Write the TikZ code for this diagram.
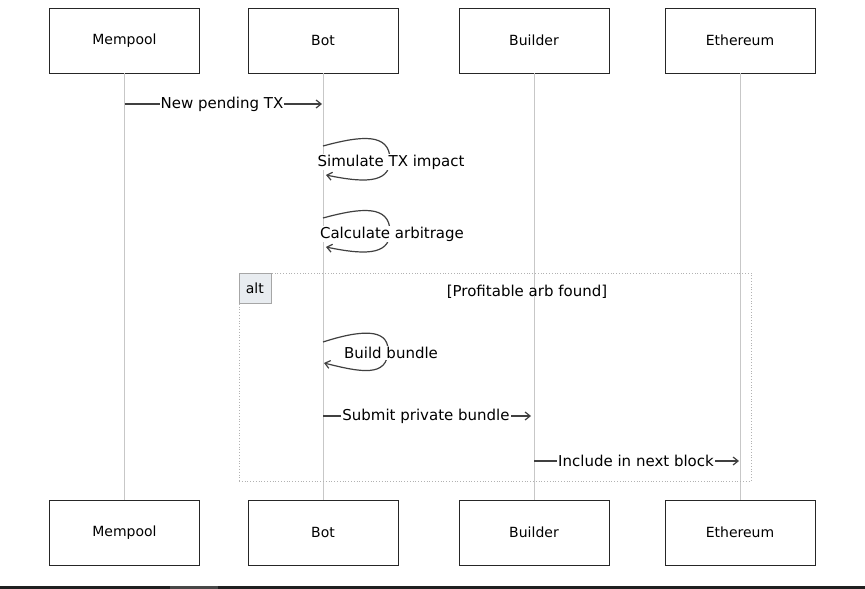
\documentclass[tikz,border=0pt]{standalone}
\usepackage{fontspec}
\setmainfont{DejaVu Sans}
\usetikzlibrary{arrows.meta}
\definecolor{altfill}{HTML}{E8ECF0}
\begin{document}
\begin{tikzpicture}[x=1pt,y=-1pt,
  actor/.style={draw=black!85,line width=0.9pt,fill=white,minimum width=150pt,minimum height=65pt,font=\fontsize{14}{16}\selectfont},
  lifeline/.style={draw=black!22,line width=1pt},
  msg/.style={draw=black!75,line width=1.2pt,-{Straight Barb[length=5pt,width=8pt]}},
  msglabel/.style={fill=white,inner sep=1pt,font=\fontsize{15}{17}\selectfont}]
\useasboundingbox (0,0) rectangle (865,589);
\fill[white] (0,0) rectangle (865,589);
\fill[black!88] (0,586) rectangle (865,589);
\fill[black!72] (170,586) rectangle (218,589);
\node[actor] (mempoolT) at (124.5,40.5) {Mempool};
\node[actor] (botT) at (323,40.5) {Bot};
\node[actor] (builderT) at (534,40.5) {Builder};
\node[actor] (ethT) at (740,40.5) {Ethereum};
\node[actor] (mempoolB) at (124.5,532.5) {Mempool};
\node[actor] (botB) at (323,532.5) {Bot};
\node[actor] (builderB) at (534,532.5) {Builder};
\node[actor] (ethB) at (740,532.5) {Ethereum};
\draw[lifeline] (mempoolT) -- (mempoolB);
\draw[lifeline] (botT) -- (botB);
\draw[lifeline] (builderT) -- (builderB);
\draw[lifeline] (ethT) -- (ethB);
\node[draw=black!30,dotted,line width=0.8pt,minimum width=512pt,minimum height=208pt,inner sep=0pt] (altframe) at (495,377) {};
\node[draw=black!35,fill=altfill,anchor=north west,minimum width=32pt,minimum height=30pt,inner sep=0pt,font=\fontsize{14}{16}\selectfont] (altlabel) at (altframe.north west) {alt};
\node[inner sep=1pt,font=\fontsize{15}{17}\selectfont] (guard) at (527,292) {[Profitable arb found]};
\coordinate (newS) at (124.5,104);
\coordinate (newE) at (322,104);
\draw[msg] (newS) -- (newE);
\node[msglabel] (newL) at (222,104) {New pending TX};
\coordinate (simS) at (323,146);
\coordinate (simE) at (326,175);
\draw[msg] (simS) .. controls (360,136) and (390,132) .. (390,160) .. controls (390,185) and (360,182) .. (simE);
\node[msglabel] (simL) at (391,162) {Simulate TX impact};
\coordinate (calcS) at (323,218);
\coordinate (calcE) at (326,247);
\draw[msg] (calcS) .. controls (360,208) and (390,204) .. (390,232) .. controls (390,257) and (360,254) .. (calcE);
\node[msglabel] (calcL) at (392,234) {Calculate arbitrage};
\coordinate (buildS) at (323,342);
\coordinate (buildE) at (324,363);
\draw[msg] (buildS) .. controls (360,330) and (388,328) .. (388,350) .. controls (388,378) and (360,372) .. (buildE);
\node[msglabel] (buildL) at (391,353) {Build bundle};
\coordinate (subS) at (323,416);
\coordinate (subE) at (531,416);
\draw[msg] (subS) -- (subE);
\node[msglabel] (subL) at (426,416) {Submit private bundle};
\coordinate (incS) at (534,461);
\coordinate (incE) at (739,461);
\draw[msg] (incS) -- (incE);
\node[msglabel] (incL) at (636,461) {Include in next block};
\end{tikzpicture}
\end{document}
